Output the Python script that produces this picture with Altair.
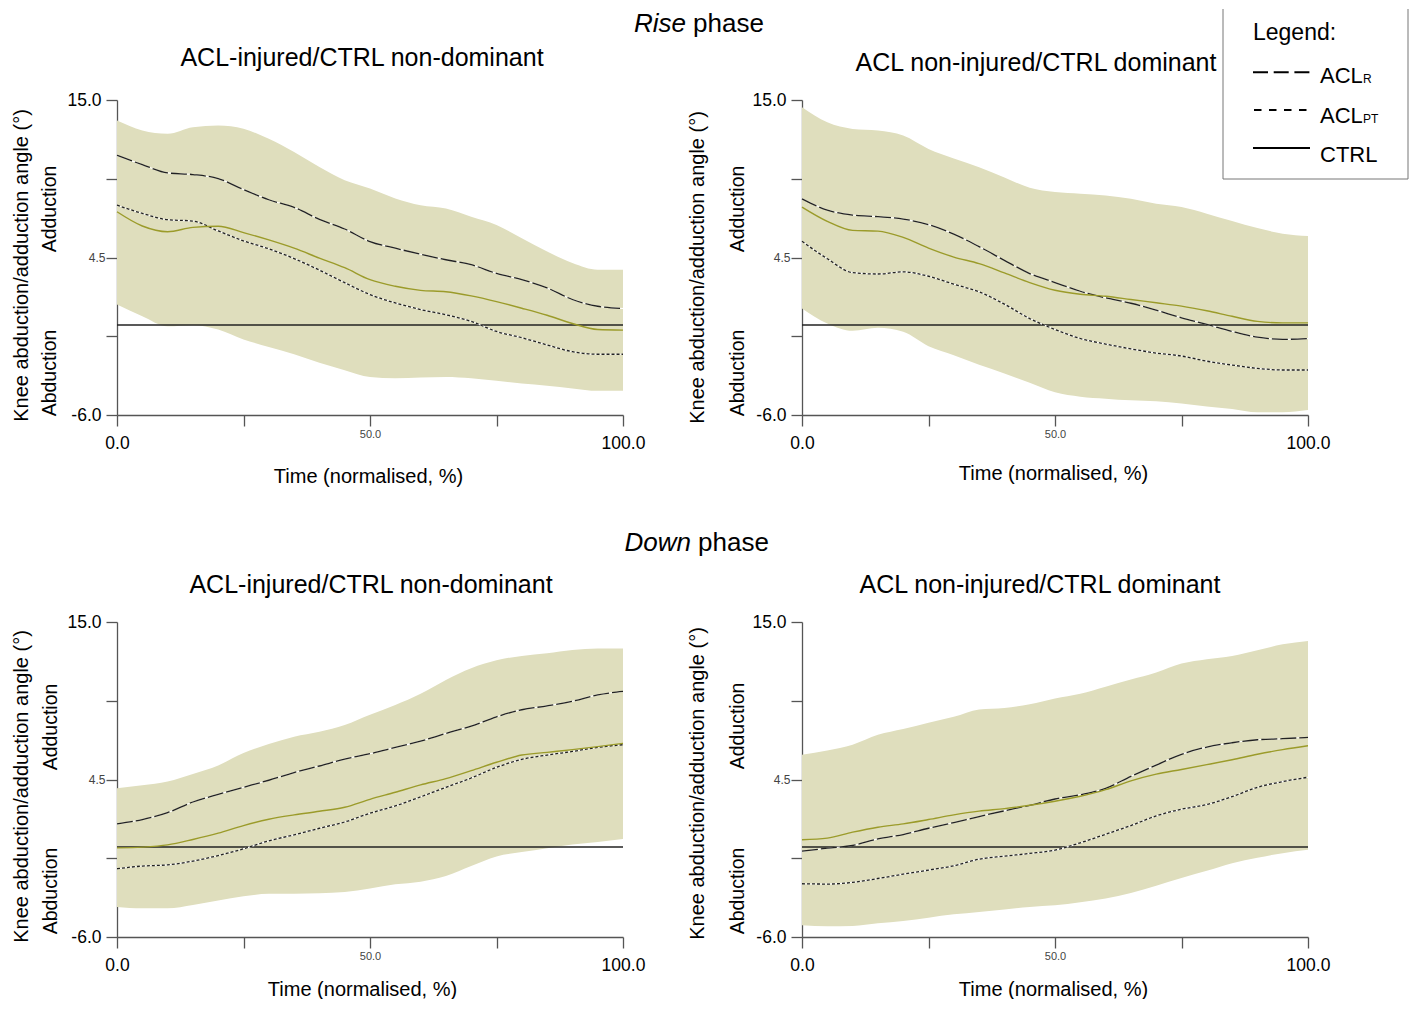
import altair as alt
import pandas as pd

FONT = "Liberation Sans"
BAND = "#dfdebd"
OLIVE = "#9b9b2a"
INK = "#222222"
AXIS_C = "#555555"

TIME = [0, 5, 10, 15, 20, 25, 30, 35, 40, 45, 50, 55, 60, 65, 70, 75, 80, 85, 90, 95, 100]

# Rise phase, ACL-injured / CTRL non-dominant
RISE_ND_UPPER = [13.63, 12.97, 12.75, 13.19, 13.30, 13.08, 12.41, 11.53, 10.53, 9.65, 9.10, 8.44, 7.99, 7.77, 7.22, 6.67, 5.78, 4.90, 4.13, 3.68, 3.68]
RISE_ND_LOWER = [1.36, 0.59, -0.08, -0.01, -0.30, -0.96, -1.47, -1.95, -2.51, -3.01, -3.46, -3.55, -3.50, -3.46, -3.55, -3.72, -3.90, -4.05, -4.23, -4.39, -4.39]
RISE_ND_ACLR = [11.31, 10.69, 10.14, 10.03, 9.76, 9.03, 8.35, 7.84, 7.04, 6.40, 5.56, 5.12, 4.72, 4.35, 4.02, 3.44, 3.02, 2.47, 1.70, 1.25, 1.10]
RISE_ND_ACLPT = [7.99, 7.44, 7.02, 6.93, 6.27, 5.61, 5.08, 4.43, 3.66, 2.82, 2.03, 1.47, 1.03, 0.68, 0.24, -0.43, -0.85, -1.33, -1.78, -1.95, -1.95]
RISE_ND_CTRL = [7.55, 6.60, 6.22, 6.51, 6.58, 6.16, 5.67, 5.12, 4.46, 3.82, 3.02, 2.58, 2.31, 2.22, 1.94, 1.56, 1.12, 0.65, 0.10, -0.30, -0.34]

# Rise phase, ACL non-injured / CTRL dominant
RISE_D_UPPER = [14.51, 13.51, 13.07, 12.96, 12.63, 11.74, 11.10, 10.52, 9.83, 9.15, 8.86, 8.75, 8.64, 8.41, 8.08, 7.86, 7.42, 6.93, 6.46, 6.09, 5.93]
RISE_D_LOWER = [1.10, 0.10, -0.39, -0.19, -0.45, -1.41, -2.01, -2.65, -3.23, -3.85, -4.49, -4.78, -4.91, -5.02, -5.09, -5.24, -5.44, -5.60, -5.82, -5.82, -5.67]
RISE_D_ACLR = [8.41, 7.66, 7.33, 7.22, 7.06, 6.69, 6.06, 5.22, 4.31, 3.43, 2.83, 2.25, 1.81, 1.45, 0.99, 0.48, 0.04, -0.43, -0.81, -0.96, -0.90]
RISE_D_ACLPT = [5.58, 4.42, 3.49, 3.40, 3.54, 3.25, 2.72, 2.21, 1.39, 0.43, -0.30, -0.90, -1.27, -1.59, -1.87, -2.07, -2.41, -2.67, -2.89, -3.00, -3.00]
RISE_D_CTRL = [7.86, 6.91, 6.31, 6.26, 5.84, 5.13, 4.53, 4.09, 3.47, 2.83, 2.32, 2.05, 1.92, 1.70, 1.48, 1.26, 0.95, 0.58, 0.24, 0.14, 0.14]

# Down phase, ACL-injured / CTRL non-dominant
DOWN_ND_UPPER = [3.91, 4.11, 4.36, 4.87, 5.44, 6.26, 6.86, 7.35, 7.68, 8.13, 8.81, 9.46, 10.21, 11.14, 11.92, 12.45, 12.74, 12.92, 13.14, 13.23, 13.23]
DOWN_ND_LOWER = [-4.00, -4.09, -4.09, -3.87, -3.56, -3.29, -3.12, -3.12, -3.09, -3.00, -2.76, -2.49, -2.32, -1.94, -1.27, -0.63, -0.34, -0.08, 0.17, 0.34, 0.54]
DOWN_ND_ACLR = [1.54, 1.83, 2.29, 3.00, 3.51, 3.98, 4.45, 4.96, 5.40, 5.86, 6.22, 6.64, 7.06, 7.57, 8.06, 8.68, 9.15, 9.41, 9.72, 10.14, 10.37]
DOWN_ND_ACLPT = [-1.45, -1.27, -1.19, -0.94, -0.57, -0.12, 0.41, 0.81, 1.25, 1.67, 2.25, 2.74, 3.34, 3.98, 4.60, 5.31, 5.84, 6.13, 6.37, 6.64, 6.82]
DOWN_ND_CTRL = [-0.06, -0.01, 0.14, 0.50, 0.92, 1.43, 1.85, 2.14, 2.38, 2.65, 3.18, 3.65, 4.14, 4.56, 5.09, 5.65, 6.13, 6.31, 6.49, 6.69, 6.91]

# Down phase, ACL non-injured / CTRL dominant
DOWN_D_UPPER = [6.15, 6.44, 6.82, 7.48, 7.86, 8.28, 8.68, 9.17, 9.26, 9.52, 9.90, 10.21, 10.68, 11.16, 11.63, 12.23, 12.52, 12.74, 13.12, 13.51, 13.74]
DOWN_D_LOWER = [-5.22, -5.29, -5.27, -5.09, -4.93, -4.71, -4.49, -4.33, -4.16, -4.00, -3.89, -3.69, -3.43, -3.07, -2.58, -2.07, -1.59, -1.08, -0.72, -0.41, -0.19]
DOWN_D_ACLR = [-0.28, -0.08, 0.10, 0.54, 0.83, 1.25, 1.63, 2.03, 2.41, 2.78, 3.20, 3.49, 3.91, 4.71, 5.46, 6.18, 6.66, 6.95, 7.15, 7.22, 7.31]
DOWN_D_ACLPT = [-2.45, -2.47, -2.36, -2.10, -1.81, -1.54, -1.25, -0.81, -0.61, -0.43, -0.21, 0.28, 0.85, 1.43, 2.07, 2.52, 2.83, 3.36, 3.98, 4.36, 4.65]
DOWN_D_CTRL = [0.48, 0.59, 0.99, 1.32, 1.54, 1.83, 2.14, 2.39, 2.56, 2.78, 3.05, 3.38, 3.82, 4.41, 4.86, 5.17, 5.49, 5.82, 6.18, 6.49, 6.75]

X_TICKS = [0, 25, 50, 75, 100]
X_TICK_LABELS = ["0.0", "", "50.0", "", "100.0"]
Y_TICKS = [-6, -0.75, 4.5, 9.75, 15]
Y_TICK_LABELS = ["-6.0", "", "4.5", "", "15.0"]

W, H = 506, 315


def label_expr(values, labels):
    expr = "''"
    for v, l in zip(reversed(values), reversed(labels)):
        expr = f"datum.value == {v} ? '{l}' : ({expr})"
    return expr


def one():
    return pd.DataFrame({"k": [0]})


def txt(text, x, y, size, align="center", baseline="middle", style="normal", angle=0, color="black"):
    return alt.Chart(one()).mark_text(
        text=text, font=FONT, fontSize=size, align=align, baseline=baseline,
        fontStyle=style, angle=angle, color=color
    ).encode(x=alt.value(x), y=alt.value(y))


def panel(upper, lower, aclr, aclpt, ctrl, title, title_x, title_y,
          ytitle_x, ytitle_y, xtitle_x, xtitle_y, lab_x, lab_y1, lab_y2, extra=()):
    df = pd.DataFrame({"t": TIME, "upper": upper, "lower": lower,
                       "aclr": aclr, "aclpt": aclpt, "ctrl": ctrl})
    xaxis = alt.Axis(
        values=X_TICKS, labelExpr=label_expr(X_TICKS, X_TICK_LABELS),
        labelFont=FONT,
        labelFontSize={"condition": {"test": "datum.value == 50", "value": 11}, "value": 17.5},
        labelColor={"condition": {"test": "datum.value == 50", "value": "#444444"}, "value": "black"},
        labelPadding={"condition": {"test": "datum.value == 50", "value": 2}, "value": 8},
        labelBaseline="top", labelFlush=False, labelOverlap=False, labelBound=False,
        tickSize=11, tickWidth=1.3, tickColor=AXIS_C, domainColor=AXIS_C, domainWidth=1.3,
        grid=False, title="Time (normalised, %)", titleFont=FONT, titleFontSize=20,
        titleFontWeight="normal", titleColor="black", titleX=xtitle_x, titleY=xtitle_y,
        titleAlign="center", titleBaseline="middle")
    yaxis = alt.Axis(
        values=Y_TICKS, labelExpr=label_expr(Y_TICKS, Y_TICK_LABELS),
        labelFont=FONT,
        labelFontSize={"condition": {"test": "datum.value == 4.5", "value": 12}, "value": 17.5},
        labelColor={"condition": {"test": "datum.value == 4.5", "value": "#444444"}, "value": "black"},
        labelPadding={"condition": {"test": "datum.value == 4.5", "value": 1}, "value": 5},
        labelFlush=False, labelOverlap=False, labelBound=False,
        tickSize=11, tickWidth=1.3, tickColor=AXIS_C, domainColor=AXIS_C, domainWidth=1.3,
        grid=False, title="Knee abduction/adduction angle (°)", titleFont=FONT, titleFontSize=20,
        titleFontWeight="normal", titleColor="black", titleX=ytitle_x, titleY=ytitle_y,
        titleAngle=270, titleAlign="center", titleBaseline="middle")
    xs = alt.Scale(domain=[0, 100], nice=False, zero=False)
    ys = alt.Scale(domain=[-6, 15], nice=False, zero=False)
    X = alt.X("t:Q", scale=xs, axis=xaxis)

    def Y(f):
        return alt.Y(f"{f}:Q", scale=ys, axis=yaxis)

    base = alt.Chart(df)
    layers = [
        base.mark_area(color=BAND, opacity=1, interpolate="monotone").encode(
            x=X, y=Y("upper"), y2="lower:Q"),
        alt.Chart(pd.DataFrame({"z": [0]})).mark_rule(color=INK, strokeWidth=1.3).encode(y=Y("z")),
        base.mark_line(color="white", strokeWidth=1.1, interpolate="monotone").encode(x=X, y=Y("aclr")),
        base.mark_line(color=INK, strokeWidth=1.3, strokeDash=[16, 3], interpolate="monotone").encode(
            x=X, y=Y("aclr")),
        base.mark_line(color="white", strokeWidth=1.1, interpolate="monotone").encode(x=X, y=Y("aclpt")),
        base.mark_line(color=INK, strokeWidth=1.3, strokeDash=[3, 2], interpolate="monotone").encode(
            x=X, y=Y("aclpt")),
        base.mark_line(color=OLIVE, strokeWidth=1.4, interpolate="monotone").encode(x=X, y=Y("ctrl")),
        txt(title, title_x, title_y, 25),
        txt("Adduction", lab_x, lab_y1, 19.5, angle=270),
        txt("Abduction", lab_x, lab_y2, 19.5, angle=270),
    ]
    layers.extend(extra)
    return alt.layer(*layers).properties(width=W, height=H)


def lrule(x1, x2, y1, y2=None, dash=None, color="black", width=2):
    kw = dict(color=color, strokeWidth=width)
    if dash:
        kw["strokeDash"] = dash
    enc = dict(x=alt.value(x1), y=alt.value(y1))
    if x2 is not None:
        enc["x2"] = alt.value(x2)
    if y2 is not None:
        enc["y2"] = alt.value(y2)
    return alt.Chart(one()).mark_rule(**kw).encode(**enc)


LEG_L, LEG_R, LEG_T, LEG_B = 421, 606, -91, 79
legend = [
    alt.Chart(one()).mark_rect(fill="white").encode(
        x=alt.value(LEG_L), x2=alt.value(LEG_R), y=alt.value(LEG_T), y2=alt.value(LEG_B)),
    lrule(LEG_L, None, LEG_T, LEG_B, color="#777777", width=1),
    lrule(LEG_R, None, LEG_T, LEG_B, color="#777777", width=1),
    lrule(LEG_L, LEG_R, LEG_B, color="#777777", width=1),
    txt("Legend:", 451, -60, 23, align="left", baseline="alphabetic"),
    lrule(451, 507.5, -27.7, dash=[15, 5.7]),
    lrule(452, 507, 10, dash=[7.5, 7.5]),
    lrule(451, 508, 48),
    txt("ACL", 518, -17, 22, align="left", baseline="alphabetic"),
    txt("R", 561, -17, 12, align="left", baseline="alphabetic"),
    txt("ACL", 518, 23.3, 22, align="left", baseline="alphabetic"),
    txt("PT", 561, 23.3, 12, align="left", baseline="alphabetic"),
    txt("CTRL", 518, 62.3, 22, align="left", baseline="alphabetic"),
]

rise_title = [
    txt("Rise", 569, -68, 26, align="right", baseline="alphabetic", style="italic"),
    txt("phase", 576, -68, 26, align="left", baseline="alphabetic"),
]
down_title = [
    txt("Down", 574, -71, 26, align="right", baseline="alphabetic", style="italic"),
    txt("phase", 581, -71, 26, align="left", baseline="alphabetic"),
]

tl = panel(RISE_ND_UPPER, RISE_ND_LOWER, RISE_ND_ACLR, RISE_ND_ACLPT, RISE_ND_CTRL,
           "ACL-injured/CTRL non-dominant", 245, -42, -96, 165, 251, 61, -67, 109, 273,
           extra=rise_title)
tr = panel(RISE_D_UPPER, RISE_D_LOWER, RISE_D_ACLR, RISE_D_ACLPT, RISE_D_CTRL,
           "ACL non-injured/CTRL dominant", 234, -37, -105, 167, 251, 58, -64, 109, 273,
           extra=legend)
bl = panel(DOWN_ND_UPPER, DOWN_ND_LOWER, DOWN_ND_ACLR, DOWN_ND_ACLPT, DOWN_ND_CTRL,
           "ACL-injured/CTRL non-dominant", 254, -37, -96, 164, 245, 52, -66, 105, 269,
           extra=down_title)
br = panel(DOWN_D_UPPER, DOWN_D_LOWER, DOWN_D_ACLR, DOWN_D_ACLPT, DOWN_D_CTRL,
           "ACL non-injured/CTRL dominant", 238, -37, -105, 161, 251, 52, -64, 104, 269)

chart = alt.concat(
    tl, tr, bl, br, columns=2, spacing={"row": 207, "column": 179}, bounds="flush"
).properties(
    padding={"left": 3, "top": 0, "right": 0, "bottom": 0}, background="white"
).configure(font=FONT).configure_view(stroke=None)

chart.save("out.html", embed_options={"renderer": "svg", "actions": False})
